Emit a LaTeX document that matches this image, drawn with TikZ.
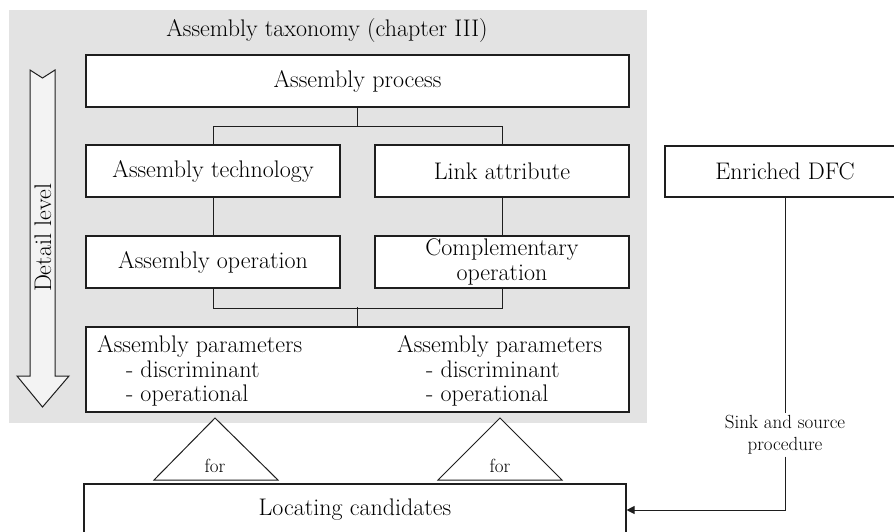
\documentclass[tikz,border=0pt]{standalone}
\usetikzlibrary{arrows.meta}
\definecolor{bggray}{RGB}{227,227,227}
\definecolor{arrowfill}{RGB}{243,243,243}
\definecolor{ink}{RGB}{30,30,30}
\newcommand{\mainfs}{\fontsize{24}{24.5}\selectfont}
\newcommand{\smallfs}{\fontsize{19}{22}\selectfont}
\tikzset{
  box/.style={draw=ink, line width=1.1pt, fill=white, inner sep=0pt, font=\mainfs, align=center},
  conn/.style={draw=ink, line width=1pt},
  thin/.style={draw=ink, line width=1pt},
  lbl/.style={font=\smallfs, inner sep=0pt, align=center},
}
\begin{document}
\begin{tikzpicture}[x=1pt,y=-1pt]
\useasboundingbox (0,0) rectangle (894,531);
\clip (0,0) rectangle (894,531);
\fill[white] (0,0) rectangle (894,531);
% gray taxonomy area
\fill[bggray] (9,10) rectangle (647,423);
\node[font=\mainfs, inner sep=0pt] (title) at (327,31) {Assembly taxonomy (chapter III)};
% detail level arrow
\draw[draw=ink, line width=1pt, fill=arrowfill] (30,70) -- (42.5,78) -- (55,70) -- (55,376) -- (69,376)
  -- (42.5,407) -- (17,376) -- (30,376) -- cycle;
\node[font=\mainfs, rotate=90, inner sep=0pt] (detail) at (43,238) {Detail level};
% boxes
\node[box, minimum width=543, minimum height=52] (proc) at (357.5,81) {Assembly process};
\node[box, minimum width=254, minimum height=52] (tech) at (213,171) {Assembly technology};
\node[box, minimum width=254, minimum height=52] (link) at (502,171) {Link attribute};
\node[box, minimum width=254, minimum height=52] (op) at (213,262) {Assembly operation};
\node[box, minimum width=254, minimum height=52] (comp) at (502,262) {Complementary\\operation};
\node[box, minimum width=543, minimum height=85] (params) at (357.5,369.5) {};
\node[font=\mainfs, align=left, anchor=west, inner sep=0pt] (parL) at (97,371)
  {Assembly parameters\\\hspace{1.2em}- discriminant\\\hspace{1.2em}- operational};
\node[font=\mainfs, align=left, anchor=west, inner sep=0pt] (parR) at (397,371)
  {Assembly parameters\\\hspace{1.2em}- discriminant\\\hspace{1.2em}- operational};
% connectors in taxonomy
\draw[conn] (proc.south) -- ++(0,19) -| (tech.north);
\draw[conn] (proc.south) ++(0,19) -| (link.north);
\draw[conn] (tech.south) -- (op.north);
\draw[conn] (link.south) -- (comp.north);
\draw[conn] (op.south) -- ++(0,19.5) -| (comp.south);
\draw[conn] (params.north) -- ++(0,-19.5);
% triangles
\draw[thin, fill=white] (154,480) -- (215,418) -- (278,480) -- cycle;
\node[lbl] (for1) at (215,466) {for};
\draw[thin, fill=white] (438,480) -- (500,418) -- (562,480) -- cycle;
\node[lbl] (for2) at (500,466) {for};
% locating candidates
\node[box, minimum width=542, minimum height=52] (loc) at (355,510) {Locating candidates};
% enriched DFC
\node[box, minimum width=240, minimum height=51] (dfc) at (785,171.5) {Enriched DFC};
\node[lbl, inner sep=2pt] (sink) at (785,435) {Sink and source\\procedure};
\draw[thin] (dfc.south) -- (sink.north);
\draw[thin, -{Triangle[length=8pt,width=8pt]}] (sink.south) |- (loc.east);
\end{tikzpicture}
\end{document}
